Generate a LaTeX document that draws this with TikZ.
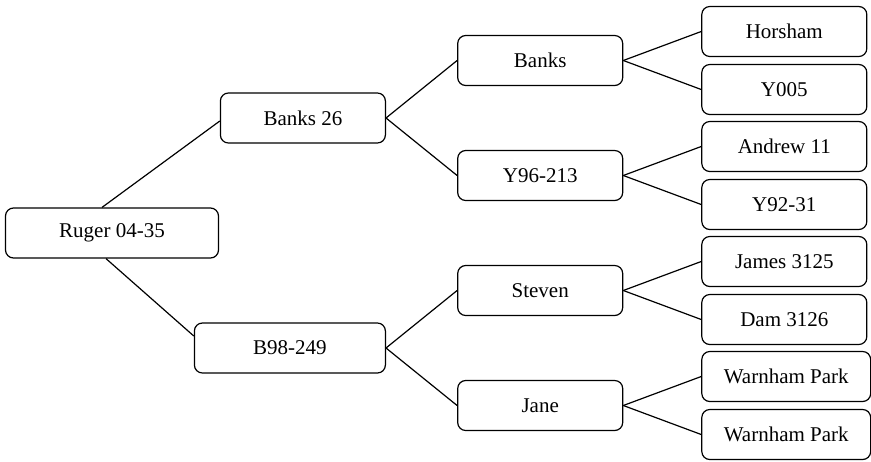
\documentclass[tikz,border=0pt]{standalone}
\usepackage{fontspec}
\setmainfont{Liberation Serif}

\begin{document}
\begin{tikzpicture}[
		x=0.5pt,
		y=-0.5pt,
		grow'=right,
		every node/.style={
			draw,
			rounded corners=4pt,
			line width=0.6pt,
			minimum width=82.5pt,
			minimum height=25pt,
			inner xsep=11pt,
			font=\fontsize{10.5}{12}\selectfont,
		},
		edge from parent/.style={
			draw,
			line width=0.6pt,
		},
		level 1/.append style={
			level distance=137pt,
			sibling distance=115pt,
			anchor=east,
		},
		level 2/.append style={
			level distance=77.1pt,
			sibling distance=57.5pt,
			anchor=west,
			edge from parent path={(\tikzparentnode.east) -- (\tikzchildnode.west)},
		},
		level 3/.append style={
			level distance=80.5pt,
			sibling distance=29pt,
			anchor=west,
			edge from parent path={(\tikzparentnode.east) -- (\tikzchildnode.west)},
		},
	]
		\useasboundingbox (0,0) rectangle (871,461);
		\node[minimum width=106.5pt] (ruger) at (112,233) {Ruger 04-35}
			child[edge from parent path={([xshift=-5pt]\tikzparentnode.north) -- ([yshift=-1.5pt]\tikzchildnode.west)}] { node (banks26) {Banks 26}
				child { node (banks) {Banks}
					child { node (horsham) {Horsham} }
					child { node (y005) {Y005} }
				}
				child { node (y96) {Y96-213}
					child { node (andrew) {Andrew 11} }
					child { node (y92) {Y92-31} }
				}
			}
			child[
				level 2/.append style={level distance=83.6pt},
				edge from parent path={([xshift=-3pt]\tikzparentnode.south) -- ([yshift=6pt]\tikzchildnode.west)},
			] { node[minimum width=95.5pt] (b98) {B98-249}
				child { node (steven) {Steven}
					child { node (james) {James 3125} }
					child { node (dam) {Dam 3126} }
				}
				child { node (jane) {Jane}
					child { node (warnhamA) {Warnham Park} }
					child { node (warnhamB) {Warnham Park} }
				}
			}
		;
	\end{tikzpicture}
\end{document}
